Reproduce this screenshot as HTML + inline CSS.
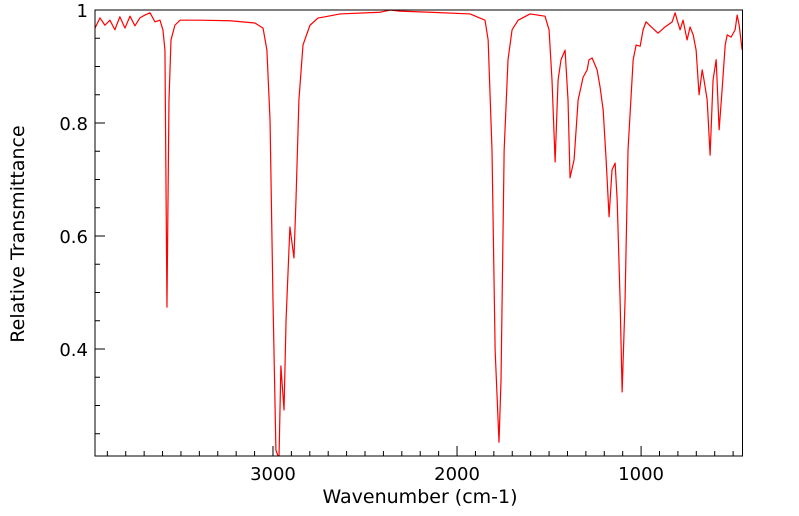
<!DOCTYPE html>
<html><head><meta charset="utf-8"><style>
html,body{margin:0;padding:0;background:#fff;}
svg{display:block;font-family:"DejaVu Sans","Liberation Sans",sans-serif;}
</style></head><body>
<svg id="chart" width="799" height="516" viewBox="0 0 799 516" xmlns="http://www.w3.org/2000/svg">
<rect x="0" y="0" width="799" height="516" fill="#fff"/>
<g id="axes"></g>
<path id="spectrum" fill="none" stroke="#ff0000" stroke-width="1.2" stroke-linejoin="round"/>
<rect x="95" y="10" width="647.5" height="446" fill="none" stroke="#000" stroke-width="1"/>
<text x="420" y="503" font-size="19" text-anchor="middle">Wavenumber (cm-1)</text>
<text transform="translate(24,234) rotate(-90)" font-size="19" text-anchor="middle">Relative Transmittance</text>
</svg>
<script>
const wavenumbers=[3967,3940,3913,3886,3859,3832,3804,3777,3750,3723,3696,3668,3641,3614,3598,3587,3576,3565,3554,3533,3505,3397,3234,3098,3054,3033,3016,3000,2984,2973,2967,2957,2940,2929,2908,2886,2875,2859,2837,2799,2755,2717,2636,2418,2364,2310,2147,1929,1848,1831,1810,1793,1772,1761,1744,1723,1701,1668,1603,1522,1500,1484,1467,1451,1435,1413,1397,1386,1364,1342,1315,1293,1283,1266,1239,1223,1206,1190,1174,1158,1141,1130,1114,1103,1087,1071,1043,1027,1005,989,973,951,908,870,831,815,804,788,772,750,734,717,701,685,668,658,641,625,609,592,576,560,543,532,511,489,478,467,451];
const transmittance=[0.968,0.986,0.973,0.982,0.965,0.988,0.968,0.989,0.972,0.986,0.991,0.995,0.979,0.982,0.965,0.929,0.474,0.841,0.947,0.973,0.982,0.982,0.981,0.977,0.968,0.929,0.805,0.487,0.221,0.211,0.211,0.370,0.292,0.451,0.616,0.561,0.664,0.841,0.938,0.973,0.986,0.988,0.993,0.996,1.0,0.998,0.996,0.993,0.982,0.947,0.752,0.398,0.235,0.345,0.752,0.912,0.965,0.982,0.993,0.989,0.965,0.876,0.731,0.876,0.912,0.929,0.841,0.703,0.735,0.841,0.881,0.894,0.912,0.915,0.894,0.864,0.823,0.735,0.634,0.717,0.729,0.664,0.487,0.324,0.487,0.752,0.912,0.938,0.936,0.965,0.979,0.972,0.959,0.970,0.979,0.995,0.982,0.965,0.982,0.947,0.970,0.956,0.929,0.850,0.894,0.876,0.841,0.743,0.876,0.912,0.788,0.858,0.938,0.956,0.952,0.965,0.991,0.973,0.929];
const xTickValues=[3000,2000,1000];
const xTickLabels=["3000","2000","1000"];
const yTickValues=[0.4,0.6,0.8,1];
const yTickLabels=["0.4","0.6","0.8","1"];

const X0=95,X1=742.5,Y0=10,Y1=456;
const WMAX=3967,WMIN=449,TMAX=1,TMIN=0.2106;
function xScale(w){return X0+(WMAX-w)/(WMAX-WMIN)*(X1-X0);}
function yScale(t){return Y0+(TMAX-t)/(TMAX-TMIN)*(Y1-Y0);}
const NS="http://www.w3.org/2000/svg";
const axes=document.getElementById('axes');
function line(x1,y1,x2,y2){const l=document.createElementNS(NS,'line');l.setAttribute('x1',x1);l.setAttribute('y1',y1);l.setAttribute('x2',x2);l.setAttribute('y2',y2);l.setAttribute('stroke','#000');l.setAttribute('stroke-width','1');axes.appendChild(l);return l;}
function text(x,y,s,anchor){const t=document.createElementNS(NS,'text');t.setAttribute('x',x);t.setAttribute('y',y);t.setAttribute('font-size','18');t.setAttribute('text-anchor',anchor);t.textContent=s;axes.appendChild(t);return t;}
for(let w=3900;w>=500;w-=100){
  const x=xScale(w);const major=(w%1000===0);
  const l=line(x,Y1,x,Y1-(major?10:5));
  
  
}
xTickValues.forEach((v,i)=>{
  const t=text(xScale(v),480,xTickLabels[i],'middle');
  
  
});
for(let k=0;k<=16;k++){
  const v=1-k*0.05; if(v<TMIN) break;
  const y=yScale(v);const major=(Math.round(v*100)%20===0);
  const l=line(X0,y,X0+(major?10:5),y);
  
  
}
yTickValues.forEach((v,i)=>{
  const t=text(88,yScale(v)+7,yTickLabels[i],'end');
  
  
});
let d='';
wavenumbers.forEach((w,i)=>{d+=(i?'L':'M')+xScale(w).toFixed(2)+','+yScale(transmittance[i]).toFixed(2);});
document.getElementById('spectrum').setAttribute('d',d);
</script>
</body></html>
